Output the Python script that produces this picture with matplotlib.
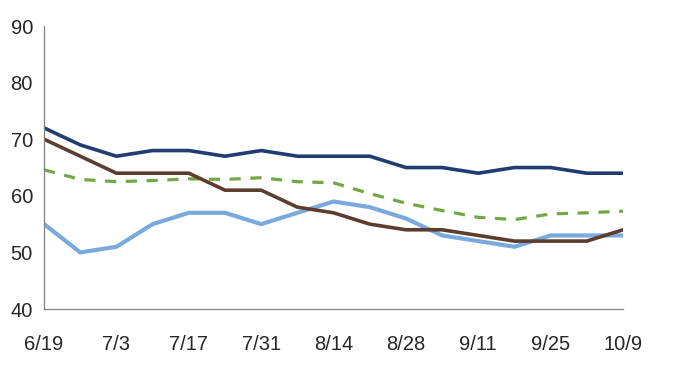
import matplotlib
matplotlib.use('Agg')
import matplotlib.pyplot as plt
import numpy as np

# weekly dates, 6/19 through 10/9
dates = ['6/19', '6/26', '7/3', '7/10', '7/17', '7/24', '7/31', '8/7', '8/14',
         '8/21', '8/28', '9/4', '9/11', '9/18', '9/25', '10/2', '10/9']

navy = [72, 69, 67, 68, 68, 67, 68, 67, 67, 67, 65, 65, 64, 65, 65, 64, 64]
brown = [70, 67, 64, 64, 64, 61, 61, 58, 57, 55, 54, 54, 53, 52, 52, 52, 54]
light_blue = [55, 50, 51, 55, 57, 57, 55, 57, 59, 58, 56, 53, 52, 51, 53, 53, 53]
green = [64.6, 62.9, 62.5, 62.7, 63, 62.9, 63.2, 62.5, 62.3, 60.4, 58.7, 57.4,
         56.2, 55.8, 56.8, 57, 57.3]

plt.rcParams['font.family'] = ['Liberation Sans', 'DejaVu Sans']

fig = plt.figure(figsize=(7, 3.67), dpi=100)
ax = fig.add_axes([0.063, 0.158, 0.827, 0.771])

x = np.arange(len(dates))
ax.plot(x, light_blue, color='#7aaadc', linewidth=3.0, solid_joinstyle='miter')
ax.plot(x, green, color='#70a845', linewidth=2.3, linestyle=(0, (3.5, 3)))
ax.plot(x, brown, color='#5c3d2e', linewidth=2.6, solid_joinstyle='miter')
ax.plot(x, navy, color='#1f3d6e', linewidth=2.6, solid_joinstyle='miter')

ax.set_xlim(0, len(dates) - 1)
ax.set_ylim(40, 90)
ax.set_yticks(range(40, 91, 10))
ax.set_xticks(x[::2])
ax.set_xticklabels(dates[::2])

for s in ['top', 'right']:
    ax.spines[s].set_visible(False)
for s in ['left', 'bottom']:
    ax.spines[s].set_color('#808080')
    ax.spines[s].set_linewidth(0.9)

ax.tick_params(axis='both', length=0, labelsize=14.5, colors='#262626')
ax.tick_params(axis='y', pad=8)
ax.tick_params(axis='x', pad=19)

fig.savefig('out.png', dpi=100)
